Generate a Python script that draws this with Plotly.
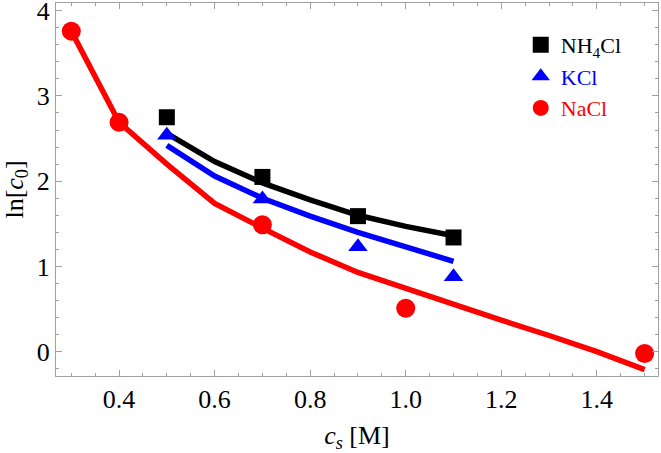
import plotly.graph_objects as go

# measured points
nh4_x = [0.5, 0.7, 0.9, 1.1]
nh4_y = [2.75, 2.05, 1.59, 1.34]
kcl_x = [0.5, 0.7, 0.9, 1.1]
kcl_y = [2.54, 1.79, 1.23, 0.88]
nacl_x = [0.3, 0.4, 0.7, 1.0, 1.5]
nacl_y = [3.76, 2.69, 1.49, 0.51, -0.02]

# model curves
nh4_fit_x = [0.5, 0.6, 0.7, 0.8, 0.9, 1.0, 1.1]
nh4_fit_y = [2.56, 2.23, 1.98, 1.78, 1.60, 1.47, 1.36]
kcl_fit_x = [0.5, 0.6, 0.7, 0.8, 0.9, 1.0, 1.1]
kcl_fit_y = [2.42, 2.06, 1.80, 1.59, 1.40, 1.23, 1.06]
nacl_fit_x = [0.3, 0.4, 0.5, 0.6, 0.7, 0.8, 0.9, 1.0, 1.1, 1.2, 1.3, 1.4, 1.5]
nacl_fit_y = [3.76, 2.69, 2.20, 1.74, 1.45, 1.17, 0.93, 0.74, 0.55, 0.37, 0.19, 0.0, -0.21]

FONT = "Liberation Serif"
fig = go.Figure()
LW = 5.5
fig.add_trace(go.Scatter(x=nacl_fit_x, y=nacl_fit_y, mode="lines",
                         line=dict(color="red", width=LW), showlegend=False))
fig.add_trace(go.Scatter(x=kcl_fit_x, y=kcl_fit_y, mode="lines",
                         line=dict(color="blue", width=LW), showlegend=False))
fig.add_trace(go.Scatter(x=nh4_fit_x, y=nh4_fit_y, mode="lines",
                         line=dict(color="black", width=LW), showlegend=False))

fig.add_trace(go.Scatter(x=nh4_x, y=nh4_y, mode="markers",
                         name="<span style='color:black'>NH<sub>4</sub>Cl</span>",
                         marker=dict(symbol="square", size=16, color="black")))
fig.add_trace(go.Scatter(x=kcl_x, y=kcl_y, mode="markers",
                         name="<span style='color:blue'>KCl</span>",
                         marker=dict(symbol="triangle-up", size=17, color="blue")))
fig.add_trace(go.Scatter(x=nacl_x, y=nacl_y, mode="markers",
                         name="<span style='color:red'>NaCl</span>",
                         marker=dict(symbol="circle", size=19, color="red")))

axis_common = dict(
    showline=True, linecolor="#a0a0a0", linewidth=1, mirror="ticks",
    ticks="inside", ticklen=6, tickcolor="#a0a0a0", tickwidth=1,
    showgrid=False, zeroline=False, automargin=False,
    ticklabeloverflow="allow",
    tickfont=dict(family=FONT, size=26, color="black"),
)

fig.update_xaxes(range=[0.268, 1.528], tickvals=[0.4, 0.6, 0.8, 1.0, 1.2, 1.4],
                 ticktext=["0.4", "0.6", "0.8", "1.0", "1.2", "1.4"],
                 minor=dict(dtick=0.05, tick0=0, ticks="inside", ticklen=3,
                            tickcolor="#a0a0a0"),
                 title=dict(text="<i>c</i><sub><i>s</i></sub> [M]",
                            font=dict(family=FONT, size=26, color="black"),
                            standoff=14),
                 **axis_common)
fig.update_yaxes(range=[-0.285, 4.09], tickvals=[0, 1, 2, 3, 4],
                 minor=dict(dtick=0.2, tick0=0, ticks="inside", ticklen=3,
                            tickcolor="#a0a0a0"),
                 title=dict(text="ln[<i>c</i><sub>0</sub>]",
                            font=dict(family=FONT, size=26, color="black"),
                            standoff=6),
                 **axis_common)

fig.update_layout(
    width=661, height=453,
    margin=dict(l=56, r=3, t=3, b=77),
    plot_bgcolor="white", paper_bgcolor="white",
    legend=dict(x=0.772, y=0.944, xanchor="left", yanchor="top",
                font=dict(family=FONT, size=22),
                bgcolor="rgba(0,0,0,0)", itemwidth=30),
)

fig.write_html("out.html", config={"displayModeBar": False},
               post_script="document.body.style.margin='0';document.body.style.padding='0';")
